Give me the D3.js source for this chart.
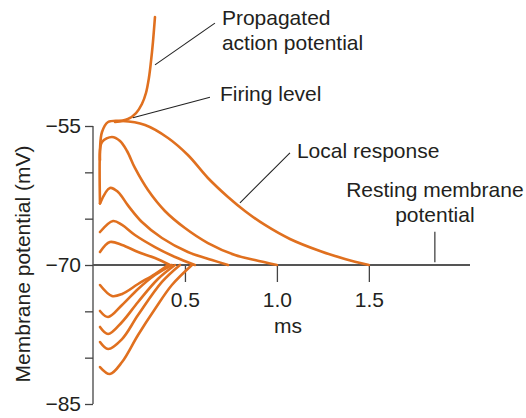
<!DOCTYPE html>
<html><head><meta charset="utf-8">
<script src="https://cdn.jsdelivr.net/npm/d3@7"></script>
<style>body{margin:0;background:#fff}svg{display:block}</style>
</head><body>
<svg id="c" width="526" height="418"></svg>
<script>
// time (ms), membrane potential (mV)
const apCurve = [[0.12,-54.57],[0.19,-54.25],[0.234,-53.6],[0.266,-52.63],[0.288,-51.44],[0.304,-49.82],[0.315,-48.09],[0.326,-45.94],[0.337,-43.24]];
const firingCurve = [[0.038,-63.36],[0.038,-57.59],[0.049,-55.65],[0.082,-54.57],[0.158,-54.46],[0.283,-54.89],[0.408,-56.29],[0.516,-58.13],[0.625,-60.61],[0.734,-62.66],[0.826,-64.17],[0.935,-65.68],[1.071,-67.19],[1.234,-68.49],[1.37,-69.35],[1.5,-70]];
const localB = [[0.038,-58.67],[0.049,-56.73],[0.103,-56.18],[0.147,-56.62],[0.185,-57.7],[0.228,-59.53],[0.299,-61.91],[0.391,-64.17],[0.5,-66.01],[0.625,-67.63],[0.772,-68.92],[0.88,-69.46],[1.0,-70]];
const localC = [[0.038,-63.36],[0.092,-61.69],[0.136,-62.12],[0.19,-63.57],[0.266,-65.36],[0.375,-67.09],[0.516,-68.6],[0.647,-69.46],[0.734,-70]];
const localD = [[0.038,-66.44],[0.109,-65.25],[0.158,-65.68],[0.228,-66.76],[0.337,-68.06],[0.446,-69.14],[0.554,-70]];
const localE = [[0.038,-68.6],[0.092,-67.52],[0.158,-67.84],[0.245,-68.6],[0.337,-69.25],[0.418,-70]];
const hyper1 = [[0.038,-72.16],[0.103,-73.34],[0.158,-73.13],[0.245,-72.05],[0.337,-70.97],[0.408,-70]];
const hyper2 = [[0.038,-74.96],[0.082,-75.61],[0.158,-74.32],[0.245,-72.59],[0.337,-71.08],[0.429,-70]];
const hyper3 = [[0.038,-76.69],[0.082,-77.45],[0.158,-76.15],[0.245,-73.99],[0.353,-71.51],[0.446,-70]];
const hyper4 = [[0.038,-78.31],[0.082,-79.06],[0.158,-77.99],[0.245,-75.4],[0.375,-71.83],[0.473,-70]];
const hyper5 = [[0.038,-81.01],[0.092,-81.76],[0.158,-80.47],[0.245,-77.55],[0.337,-74.75],[0.429,-72.16],[0.538,-70]];
const curves = [hyper5, hyper4, hyper3, hyper2, hyper1, localE, localD, localC, localB, firingCurve, apCurve];

const xTicks = [0.5, 1.0, 1.5];
const yTicks = [-85, -80, -75, -70, -65, -60, -55];
const yLabeled = [-85, -70, -55];
const xTitle = "ms";
const yTitle = "Membrane potential (mV)";
const labels = [
  {lines:["Propagated","action potential"], t:0.701, v:-44.1, anchor:"start"},
  {lines:["Firing level"], t:0.690, v:-52.3, anchor:"start"},
  {lines:["Local response"], t:1.109, v:-58.45, anchor:"start"},
  {lines:["Resting membrane","potential"], t:1.859, v:-62.7, anchor:"middle"}
];
const leaders = [
  [[0.337,-48.4],[0.663,-43.9]],
  [[0.217,-54.1],[0.636,-51.9]],
  [[0.799,-63.3],[1.071,-57.9]],
  [[1.859,-66.4],[1.859,-69.7]]
];

const svg = d3.select("#c");
const font = "'Liberation Sans', Arial, sans-serif";
const x = d3.scaleLinear().domain([0, 2.05]).range([93, 470]);
const y = d3.scaleLinear().domain([-85, -55]).range([404, 126]);
const axisColor = "#444";
const textColor = "#231f20";

// y axis
const ya = svg.append("g").attr("transform", `translate(${x(0)},0)`)
  .call(d3.axisLeft(y).tickValues(yTicks).tickSize(8).tickPadding(4)
    .tickFormat(d => yLabeled.includes(d) ? d3.format("d")(d) : ""));
ya.select(".domain").remove();
ya.selectAll(".tick line").attr("stroke", axisColor).attr("stroke-width", 1.3);
ya.selectAll("text").attr("font-family", font).attr("font-size", 21).attr("fill", textColor);
svg.append("line").attr("x1", x(0)).attr("x2", x(0)).attr("y1", y(-55)).attr("y2", y(-85))
  .attr("stroke", axisColor).attr("stroke-width", 1.3);

// x axis at resting potential
const xa = svg.append("g").attr("transform", `translate(0,${y(-70)})`)
  .call(d3.axisBottom(x).tickValues(xTicks).tickSize(17).tickPadding(10).tickFormat(d3.format(".1f")));
xa.select(".domain").remove();
xa.selectAll(".tick line").attr("stroke", axisColor).attr("stroke-width", 1.3);
xa.selectAll("text").attr("font-family", font).attr("font-size", 21).attr("fill", textColor);
svg.append("line").attr("x1", x(0)).attr("x2", x(2.05)).attr("y1", y(-70)).attr("y2", y(-70))
  .attr("stroke", "#555").attr("stroke-width", 2);

// titles
svg.append("text").attr("x", 288).attr("y", 333).attr("text-anchor", "middle")
  .attr("font-family", font).attr("font-size", 21).attr("fill", textColor).text(xTitle);
svg.append("text").attr("transform", "translate(30,264) rotate(-90)").attr("text-anchor", "middle")
  .attr("font-family", font).attr("font-size", 21).attr("fill", textColor).text(yTitle);

// curves
const line = d3.line().x(d => x(d[0])).y(d => y(d[1])).curve(d3.curveCatmullRom.alpha(0.5));
svg.append("g").selectAll("path").data(curves).join("path")
  .attr("d", line).attr("fill", "none").attr("stroke", "#e0701f")
  .attr("stroke-width", 2.6).attr("stroke-linecap", "round").attr("stroke-linejoin", "round");

// leader lines
svg.append("g").selectAll("line").data(leaders).join("line")
  .attr("x1", d => x(d[0][0])).attr("y1", d => y(d[0][1]))
  .attr("x2", d => x(d[1][0])).attr("y2", d => y(d[1][1]))
  .attr("stroke", "#222").attr("stroke-width", 1.1);

// labels
labels.forEach(l => {
  const t = svg.append("text").attr("x", x(l.t)).attr("y", y(l.v)).attr("text-anchor", l.anchor)
    .attr("font-family", font).attr("font-size", 21).attr("fill", textColor);
  l.lines.forEach((s, i) => t.append("tspan").attr("x", x(l.t)).attr("dy", i ? 25 : 0).text(s));
});
</script>
</body></html>
